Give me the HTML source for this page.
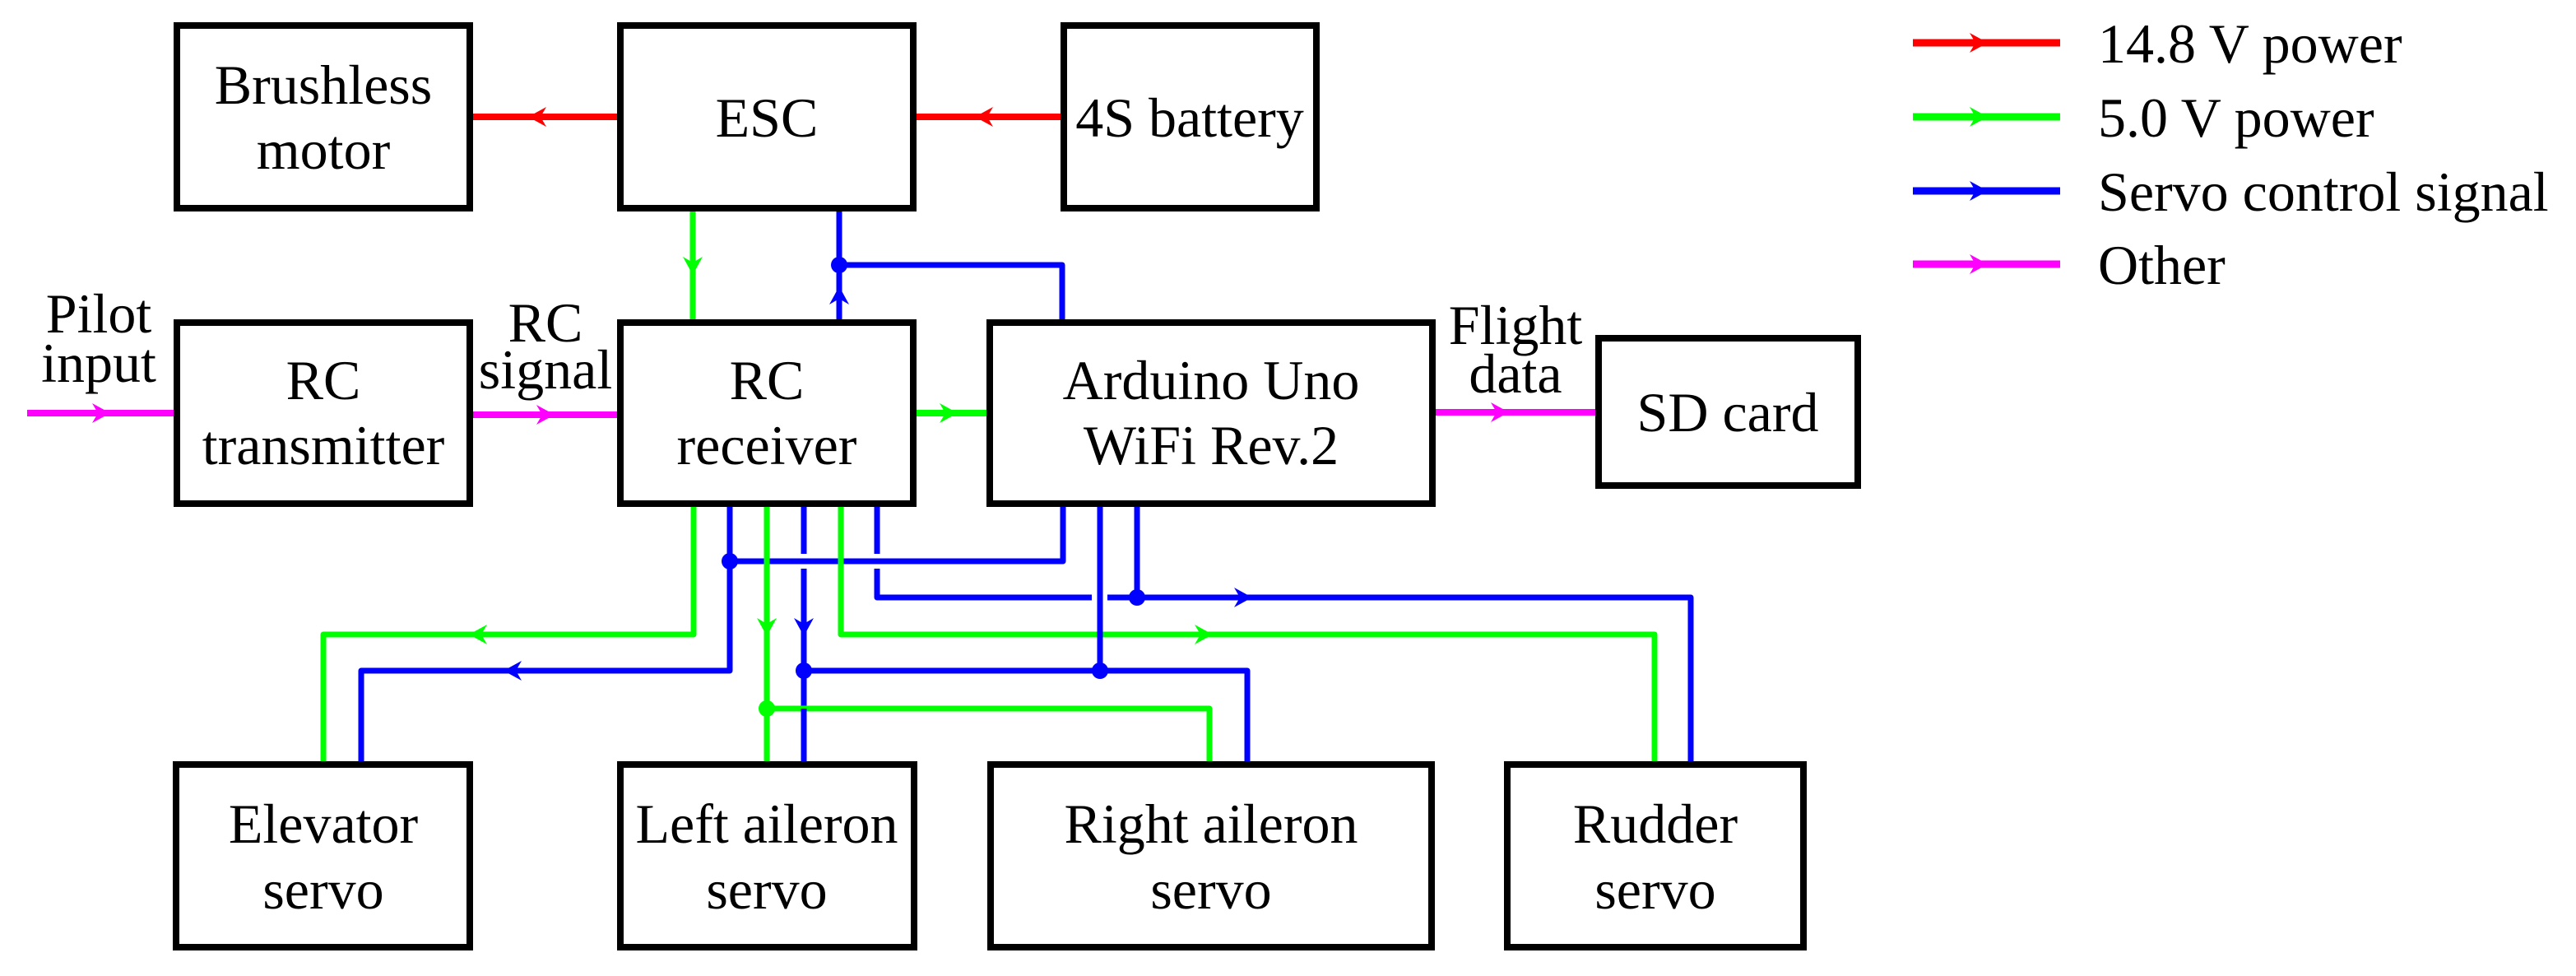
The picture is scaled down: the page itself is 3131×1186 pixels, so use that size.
<!DOCTYPE html>
<html><head><meta charset="utf-8"><style>
html,body{margin:0;padding:0;background:#fff}
svg{display:block}
text{font-family:"Liberation Serif",serif;font-size:68px;fill:#000;text-anchor:middle}
</style></head><body>
<svg width="3131" height="1186" viewBox="0 0 3131 1186" xmlns="http://www.w3.org/2000/svg">
<defs>
<path id="ar" d="M0,0 L-22,-12 L-15,0 L-22,12 Z"/>
</defs>
<g fill="none" stroke-width="7" stroke-linecap="butt" stroke-linejoin="round">
<g stroke="#ff0000" stroke-width="8">
<line x1="575" y1="142" x2="750" y2="142"/>
<line x1="1114" y1="142" x2="1289" y2="142"/>
</g>
<g stroke="#ff00ff" stroke-width="8">
<line x1="33" y1="502" x2="211" y2="502"/>
<line x1="575" y1="504" x2="750" y2="504"/>
<line x1="1744" y1="501" x2="1939" y2="501"/>
</g>
<line stroke="#00ff00" x1="842" y1="257" x2="842" y2="388"/>
<line stroke="#00ff00" x1="1114" y1="502" x2="1199" y2="502" stroke-width="8"/>
<line stroke="#0000ff" x1="1020" y1="257" x2="1020" y2="388"/>
<polyline stroke="#0000ff" points="1020,322 1291,322 1291,388"/>
<polyline stroke="#00ff00" points="843,616 843,771 393,771 393,925"/>
<polyline stroke="#0000ff" points="887,616 887,815 439,815 439,925"/>
<polyline stroke="#0000ff" points="887,682 1292,682 1292,616"/>
<polyline stroke="#00ff00" points="1022,616 1022,771 2011,771 2011,925"/>
<line stroke="#0000ff" x1="1337" y1="616" x2="1337" y2="815"/>
<line stroke="#00ff00" x1="932" y1="616" x2="932" y2="925"/>
<polyline stroke="#0000ff" points="977,616 977,673"/>
<polyline stroke="#0000ff" points="977,691 977,925"/>
<polyline stroke="#0000ff" points="977,815 1516,815 1516,925"/>
<polyline stroke="#00ff00" points="932,861 1470,861 1470,925"/>
<line stroke="#0000ff" x1="977" y1="861" x2="977" y2="925"/>
<polyline stroke="#0000ff" points="1066,616 1066,673"/>
<polyline stroke="#0000ff" points="1066,691 1066,726 1327,726"/>
<polyline stroke="#0000ff" points="1346,726 2055,726 2055,925"/>
<line stroke="#0000ff" x1="1382" y1="616" x2="1382" y2="726"/>
<line stroke="#ff0000" stroke-width="9" x1="2325" y1="52" x2="2504" y2="52"/>
<line stroke="#00ff00" stroke-width="9" x1="2325" y1="142" x2="2504" y2="142"/>
<line stroke="#0000ff" stroke-width="9" x1="2325" y1="232" x2="2504" y2="232"/>
<line stroke="#ff00ff" stroke-width="9" x1="2325" y1="321" x2="2504" y2="321"/>
</g>
<g fill="#0000ff">
<circle cx="1020" cy="322" r="10"/>
<circle cx="887" cy="682" r="10"/>
<circle cx="977" cy="815" r="10"/>
<circle cx="1337" cy="815" r="10"/>
<circle cx="1382" cy="726" r="10"/>
</g>
<circle cx="932" cy="861" r="10" fill="#00ff00"/>
<use href="#ar" fill="#ff0000" transform="translate(642,142) rotate(180)"/>
<use href="#ar" fill="#ff0000" transform="translate(1185,142) rotate(180)"/>
<use href="#ar" fill="#ff00ff" transform="translate(134,502)"/>
<use href="#ar" fill="#ff00ff" transform="translate(674,504)"/>
<use href="#ar" fill="#ff00ff" transform="translate(1834,501)"/>
<use href="#ar" fill="#00ff00" transform="translate(1164,502)"/>
<use href="#ar" fill="#00ff00" transform="translate(842,334) rotate(90)"/>
<use href="#ar" fill="#0000ff" transform="translate(1020,348) rotate(-90)"/>
<use href="#ar" fill="#00ff00" transform="translate(570,771) rotate(180)"/>
<use href="#ar" fill="#0000ff" transform="translate(612,815) rotate(180)"/>
<use href="#ar" fill="#00ff00" transform="translate(932,773) rotate(90)"/>
<use href="#ar" fill="#0000ff" transform="translate(977,773) rotate(90)"/>
<use href="#ar" fill="#00ff00" transform="translate(1474,771)"/>
<use href="#ar" fill="#0000ff" transform="translate(1522,726)"/>
<use href="#ar" fill="#ff0000" transform="translate(2416,52)"/>
<use href="#ar" fill="#00ff00" transform="translate(2416,142)"/>
<use href="#ar" fill="#0000ff" transform="translate(2416,232)"/>
<use href="#ar" fill="#ff00ff" transform="translate(2416,321)"/>
<g fill="none" stroke="#000" stroke-width="8">
<rect x="215" y="31" width="356" height="222"/>
<rect x="754" y="31" width="356" height="222"/>
<rect x="1293" y="31" width="307" height="222"/>
<rect x="215" y="392" width="356" height="220"/>
<rect x="754" y="392" width="356" height="220"/>
<rect x="1203" y="392" width="538" height="220"/>
<rect x="1943" y="411" width="315" height="179"/>
<rect x="214" y="929" width="357" height="222"/>
<rect x="754" y="929" width="357" height="222"/>
<rect x="1204" y="929" width="536" height="222"/>
<rect x="1832" y="929" width="360" height="222"/>
</g>
<text x="393" y="126">Brushless</text>
<text x="393" y="205">motor</text>
<text x="932" y="166">ESC</text>
<text x="1446" y="166">4S battery</text>
<text x="393" y="485">RC</text>
<text x="393" y="564">transmitter</text>
<text x="932" y="485">RC</text>
<text x="932" y="564">receiver</text>
<text x="1472" y="485">Arduino Uno</text>
<text x="1472" y="564">WiFi Rev.2</text>
<text x="2100" y="524">SD card</text>
<text x="120" y="404">Pilot</text>
<text x="120" y="464">input</text>
<text x="663" y="415">RC</text>
<text x="663" y="472">signal</text>
<text x="1842" y="418">Flight</text>
<text x="1842" y="477">data</text>
<text x="393" y="1024">Elevator</text>
<text x="393" y="1104">servo</text>
<text x="932" y="1024">Left aileron</text>
<text x="932" y="1104">servo</text>
<text x="1472" y="1024">Right aileron</text>
<text x="1472" y="1104">servo</text>
<text x="2012" y="1024">Rudder</text>
<text x="2012" y="1104">servo</text>
<text x="2550" y="76" style="text-anchor:start">14.8 V power</text>
<text x="2550" y="166" style="text-anchor:start">5.0 V power</text>
<text x="2550" y="256" style="text-anchor:start">Servo control signal</text>
<text x="2550" y="345" style="text-anchor:start">Other</text>
</svg>
</body></html>
